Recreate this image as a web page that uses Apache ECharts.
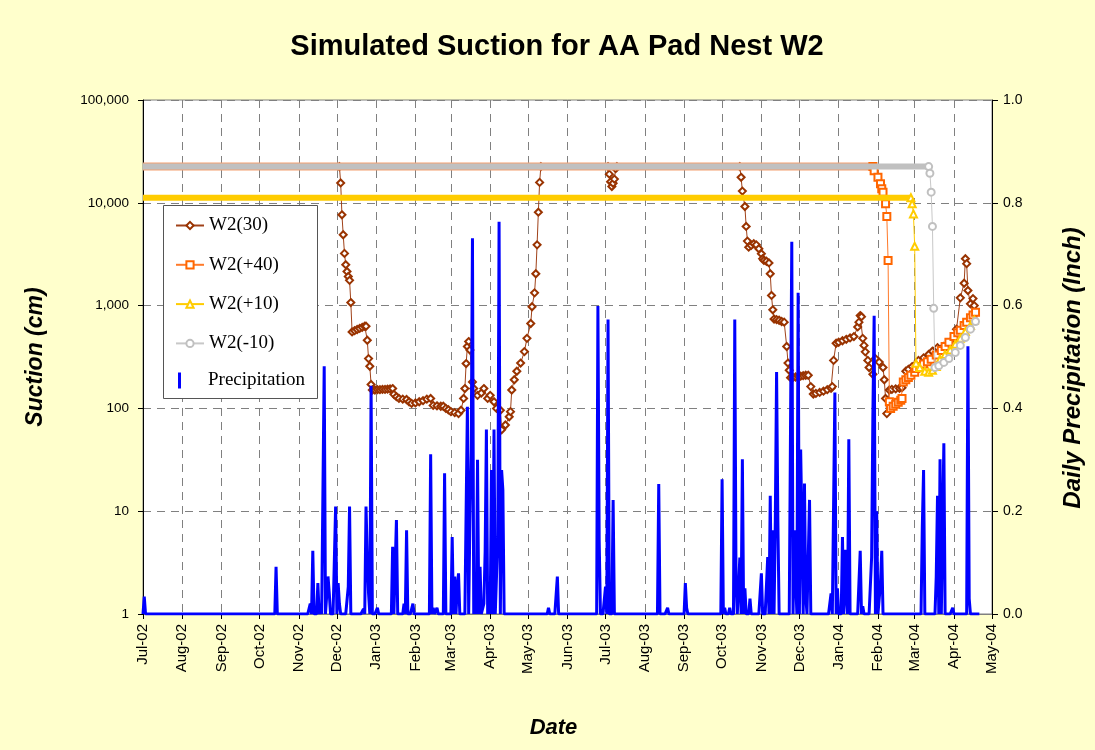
<!DOCTYPE html>
<html><head><meta charset="utf-8">
<script src="https://cdn.jsdelivr.net/npm/echarts@6/dist/echarts.min.js"></script>
<style>html,body{margin:0;padding:0;background:#FFFFCC;}#c{width:1095px;height:750px;}</style>
</head><body><div id="c"></div>
<script>
const leftTickLabels = ['1','10','100','1,000','10,000','100,000'];
const seriesNames = ['W2(30)','W2(+40)','W2(+10)','W2(-10)','Precipitation'];

// W2(30) suction (cm)
const w230Plateau = [['2002-07-01',22500],['2002-12-03',22500]];
const w230 = [
['2002-12-03',22500],['2002-12-04',15600],['2002-12-05',7640],['2002-12-06',4890],
['2002-12-07',3220],['2002-12-08',2500],['2002-12-09',2150],['2002-12-10',1920],['2002-12-11',1760],
['2002-12-12',1070],['2002-12-13',555],['2002-12-15',570],['2002-12-17',585],['2002-12-19',600],
['2002-12-21',615],['2002-12-23',630],['2002-12-24',630],['2002-12-25',460],['2002-12-26',305],
['2002-12-27',257],['2002-12-28',171],['2002-12-29',151],['2002-12-31',151],['2003-01-02',152],
['2003-01-04',152],['2003-01-06',153],['2003-01-08',153],['2003-01-10',154],['2003-01-12',155],
['2003-01-14',156],['2003-01-15',137],['2003-01-17',130],['2003-01-19',125],['2003-01-22',123],
['2003-01-25',122],['2003-01-27',116],['2003-01-29',112],['2003-02-01',113],['2003-02-04',116],
['2003-02-07',119],['2003-02-10',123],['2003-02-13',125],['2003-02-15',107],['2003-02-18',106],
['2003-02-21',105],['2003-02-23',105],['2003-02-25',100],['2003-02-27',97],['2003-03-01',93],
['2003-03-04',91],['2003-03-07',89],['2003-03-09',96],['2003-03-11',125],['2003-03-12',156],
['2003-03-13',273],['2003-03-14',400],['2003-03-15',447],['2003-03-16',370],['2003-03-18',181],
['2003-03-19',156],['2003-03-22',134],['2003-03-25',141],['2003-03-27',156],['2003-03-30',125],
['2003-04-01',134],['2003-04-04',116],['2003-04-06',100],['2003-04-09',96],['2003-04-10',62],
['2003-04-13',69],['2003-04-16',83],['2003-04-17',93],['2003-04-18',151],['2003-04-20',190],
['2003-04-22',230],['2003-04-25',276],['2003-04-28',357],['2003-04-30',480],['2003-05-03',670],
['2003-05-04',975],['2003-05-06',1330],['2003-05-07',2040],['2003-05-08',3900],['2003-05-09',8100],
['2003-05-10',15800],['2003-05-11',22500],['2003-07-03',22500],['2003-07-04',19000],['2003-07-05',16000],
['2003-07-06',14400],['2003-07-07',15500],['2003-07-08',17000],['2003-07-09',21500],['2003-07-10',22500],
['2003-10-15',22500],['2003-10-16',17700],['2003-10-17',13000],['2003-10-19',9200],['2003-10-20',5890],
['2003-10-21',4240],['2003-10-22',3700],['2003-10-24',3850],['2003-10-26',4000],['2003-10-28',3900],
['2003-10-30',3570],['2003-11-01',3200],['2003-11-02',2860],['2003-11-03',2750],['2003-11-05',2700],
['2003-11-07',2600],['2003-11-08',2040],['2003-11-09',1255],['2003-11-10',910],['2003-11-11',740],
['2003-11-13',730],['2003-11-15',720],['2003-11-17',700],['2003-11-19',690],['2003-11-21',400],
['2003-11-22',276],['2003-11-23',235],['2003-11-24',199],['2003-11-26',200],['2003-11-28',202],
['2003-11-30',204],['2003-12-02',206],['2003-12-04',208],['2003-12-06',210],['2003-12-08',210],
['2003-12-10',163],['2003-12-12',138],['2003-12-14',140],['2003-12-17',143],['2003-12-20',147],
['2003-12-23',152],['2003-12-26',157],['2003-12-27',163],['2003-12-28',293],['2003-12-30',430],
['2004-01-01',440],['2004-01-04',455],['2004-01-07',470],['2004-01-10',485],['2004-01-13',500],
['2004-01-16',620],['2004-01-17',690],['2004-01-18',800],['2004-01-19',780],['2004-01-20',480],
['2004-01-21',410],['2004-01-22',355],['2004-01-24',293],['2004-01-25',250],['2004-01-28',215],
['2004-01-30',305],['2004-02-02',282],['2004-02-05',250],['2004-02-06',190],['2004-02-07',125],
['2004-02-08',89],['2004-02-10',151],['2004-02-12',153],['2004-02-15',155],['2004-02-18',157],
['2004-02-20',159],['2004-02-23',230],['2004-02-25',240],['2004-02-28',255],['2004-03-02',270],
['2004-03-04',293],['2004-03-08',310],['2004-03-12',335],['2004-03-15',360],['2004-03-19',390],
['2004-03-24',400],['2004-03-29',440],['2004-04-03',590],['2004-04-06',1190],['2004-04-09',1650],
['2004-04-10',2860],['2004-04-11',2560],['2004-04-12',1400],['2004-04-14',1040],['2004-04-16',1170],
['2004-04-17',1000]
];
// W2(+40)
const w240Plateau = [['2002-07-01',22500],['2004-01-28',22500]];
const w240 = [
['2004-01-28',22500],['2004-01-29',20500],['2004-02-01',17700],['2004-02-03',15300],['2004-02-04',13700],
['2004-02-05',12700],['2004-02-07',9800],['2004-02-08',7360],['2004-02-09',2750],['2004-02-10',116],
['2004-02-11',100],['2004-02-13',105],['2004-02-15',110],['2004-02-17',115],['2004-02-19',120],
['2004-02-20',125],['2004-02-21',181],['2004-02-23',190],['2004-02-25',200],['2004-02-27',210],
['2004-03-01',225],['2004-03-02',245],['2004-03-05',255],['2004-03-08',270],['2004-03-11',285],
['2004-03-14',300],['2004-03-18',330],['2004-03-22',365],['2004-03-25',400],['2004-03-28',440],
['2004-04-01',500],['2004-04-04',545],['2004-04-06',575],['2004-04-09',640],['2004-04-11',690],
['2004-04-14',760],['2004-04-16',810],['2004-04-18',860]
];
// W2(+10)
const w210Plateau = [['2002-07-01',11200],['2004-02-27',11200]];
const w210 = [
['2004-02-27',11200],['2004-02-28',9800],['2004-02-29',7800],['2004-03-01',3770],['2004-03-02',275],
['2004-03-05',250],['2004-03-09',230],['2004-03-12',225],['2004-03-15',235],['2004-03-18',255],
['2004-03-21',300],['2004-03-25',335],['2004-03-29',370],['2004-04-02',420],['2004-04-06',480],
['2004-04-10',560],['2004-04-14',640],['2004-04-17',720]
];
// W2(-10)
const wm10Plateau = [['2002-07-01',22500],['2004-03-12',22500]];
const wm10 = [
['2004-03-12',22500],['2004-03-13',19400],['2004-03-14',12700],['2004-03-15',5890],['2004-03-16',940],
['2004-03-17',250],['2004-03-20',260],['2004-03-24',280],['2004-03-28',305],['2004-04-02',350],
['2004-04-06',410],['2004-04-10',490],['2004-04-14',590],['2004-04-18',700]
];
// Daily precipitation (inch): days with rain; all other days read as 0
const precipStart = '2002-07-01';
const precipEnd = '2004-04-21';
const precipEvents = [
['2002-07-02',0.034],['2002-10-14',0.092],['2002-11-10',0.02],['2002-11-12',0.123],['2002-11-16',0.06],
['2002-11-18',0.02],['2002-11-21',0.482],['2002-11-24',0.073],['2002-11-25',0.04],['2002-11-30',0.209],
['2002-12-02',0.06],['2002-12-03',0.02],['2002-12-10',0.053],['2002-12-11',0.209],['2002-12-22',0.01],
['2002-12-24',0.209],['2002-12-25',0.11],['2002-12-26',0.04],['2002-12-28',0.444],['2003-01-02',0.012],
['2003-01-14',0.131],['2003-01-17',0.183],['2003-01-23',0.02],['2003-01-25',0.163],['2003-01-30',0.02],
['2003-02-13',0.311],['2003-02-15',0.012],['2003-02-18',0.012],['2003-02-24',0.274],['2003-03-02',0.15],
['2003-03-04',0.073],['2003-03-06',0.053],['2003-03-07',0.079],['2003-03-14',0.403],['2003-03-16',0.183],
['2003-03-17',0.319],['2003-03-18',0.731],['2003-03-20',0.08],['2003-03-22',0.3],['2003-03-24',0.092],
['2003-03-27',0.02],['2003-03-28',0.121],['2003-03-29',0.359],['2003-03-31',0.05],['2003-04-02',0.28],
['2003-04-04',0.359],['2003-04-07',0.15],['2003-04-08',0.763],['2003-04-10',0.28],['2003-04-11',0.241],
['2003-05-17',0.012],['2003-05-24',0.073],['2003-06-25',0.599],['2003-06-26',0.144],['2003-07-01',0.053],
['2003-07-03',0.573],['2003-07-07',0.222],['2003-08-12',0.253],['2003-08-19',0.012],['2003-09-02',0.06],
['2003-09-03',0.012],['2003-10-01',0.262],['2003-10-03',0.012],['2003-10-07',0.012],['2003-10-11',0.573],
['2003-10-12',0.06],['2003-10-15',0.11],['2003-10-17',0.301],['2003-10-19',0.05],['2003-10-23',0.03],
['2003-11-01',0.079],['2003-11-06',0.111],['2003-11-08',0.23],['2003-11-10',0.163],['2003-11-12',0.183],
['2003-11-13',0.471],['2003-11-14',0.183],['2003-11-25',0.724],['2003-11-27',0.163],['2003-11-28',0.073],
['2003-11-30',0.625],['2003-12-02',0.32],['2003-12-03',0.17],['2003-12-05',0.254],['2003-12-06',0.035],
['2003-12-09',0.222],['2003-12-26',0.04],['2003-12-29',0.431],['2003-12-31',0.05],['2004-01-04',0.15],
['2004-01-06',0.125],['2004-01-07',0.035],['2004-01-09',0.34],['2004-01-18',0.123],['2004-01-20',0.015],
['2004-01-27',0.11],['2004-01-28',0.39],['2004-01-29',0.58],['2004-01-31',0.2],['2004-02-03',0.06],
['2004-02-04',0.123],['2004-03-07',0.17],['2004-03-08',0.28],['2004-03-18',0.073],['2004-03-19',0.23],
['2004-03-21',0.301],['2004-03-24',0.332],['2004-03-31',0.012],['2004-04-12',0.521],['2004-04-13',0.03]
];

function pad(n){return (n<10?'0':'')+n;}
function key(d){return d.getFullYear()+'-'+pad(d.getMonth()+1)+'-'+pad(d.getDate());}
function toDate(s){const p=s.split('-');return new Date(+p[0],+p[1]-1,+p[2]);}
function dailyPrecip(){
  const m={};
  precipEvents.forEach(function(e){m[e[0]]=Math.max(m[e[0]]||0,e[1]);});
  const out=[];const end=toDate(precipEnd);
  for(let d=toDate(precipStart);d<=end;d.setDate(d.getDate()+1)){const k=key(d);out.push([k,m[k]||0]);}
  return out;
}
function ts(data){return data.map(function(p){return [toDate(p[0]).getTime(),p[1]];});}

const chart = echarts.init(document.getElementById('c'), null, {renderer:'canvas'});
const dash = {type:[8,6], color:'#808080', width:1};
const axisNameBase = {fontFamily:'Liberation Sans', fontWeight:'bold', fontStyle:'italic', fontSize:22, color:'#000'};
const tickFont = {fontFamily:'Liberation Sans', fontSize:13.5, color:'#000'};
const legendText = {fontFamily:'Liberation Serif', fontSize:19, color:'#000'};

function detail(name, data, color, lineColor, symbol, size, z){
  return {name:name, type:'line', data:ts(data), yAxisIndex:0, symbol:symbol, symbolSize:size,
    showSymbol:true, lineStyle:{color:lineColor, width:1}, itemStyle:{color:color, borderColor:color, borderWidth:1.6},
    z:z, animation:false, emphasis:{disabled:true}};
}
function plateau(name, data, color, width, z){
  return {name:name, type:'line', data:ts(data), yAxisIndex:0, symbol:'none', showSymbol:false,
    lineStyle:{color:color, width:width, cap:'butt'}, itemStyle:{color:color}, z:z, animation:false, emphasis:{disabled:true}};
}

const option = {
  backgroundColor:'#FFFFCC',
  animation:false,
  title:{text:'Simulated Suction for AA Pad Nest W2', left:552, top:27, textAlign:'center',
    textStyle:{fontFamily:'Liberation Sans', fontWeight:'bold', fontSize:29, color:'#000'}},
  grid:{show:true, left:143, top:100, width:849, height:514, backgroundColor:'#ffffff', borderColor:'#808080', borderWidth:1},
  graphic:[{type:'rect', left:163, top:205, z:3, shape:{width:154, height:193},
    style:{fill:'#ffffff', stroke:'#555555', lineWidth:1}}],
  legend:[
    {left:175, top:216, orient:'vertical', itemWidth:28, itemHeight:9, itemGap:20.3, padding:0, z:8,
     textStyle:legendText, data:seriesNames.slice(0,4)},
    {left:175, top:371, orient:'vertical', itemWidth:28, itemHeight:16, padding:0, z:8,
     textStyle:legendText, data:[{name:seriesNames[4], icon:'path://M0,0M28,16M3,0h3v16h-3z'}]}
  ],
  xAxis:{
    type:'time', min:toDate('2002-07-01').getTime(), max:toDate('2004-05-01').getTime(),
    splitNumber:22, minInterval:28*86400000, maxInterval:31*86400000,
    name:'Date', nameLocation:'middle', nameGap:103,
    nameTextStyle:Object.assign({padding:[0,28,0,0]}, axisNameBase),
    axisLine:{onZero:false, lineStyle:{color:'#808080'}},
    axisTick:{show:true, length:5, lineStyle:{color:'#000'}},
    axisLabel:{rotate:90, formatter:'{MMM}-{yy}', margin:10, interval:0, hideOverlap:false,
      showMinLabel:true, showMaxLabel:true, fontFamily:'Liberation Sans', fontSize:15, color:'#000'},
    splitLine:{show:true, lineStyle:dash}
  },
  yAxis:[
    {type:'log', logBase:10, min:1, max:100000, position:'left',
     name:'Suction (cm)', nameLocation:'middle', nameRotate:90, nameGap:96,
     nameTextStyle:Object.assign({}, axisNameBase, {fontSize:23}),
     axisLine:{show:true, lineStyle:{color:'#000', width:1}},
     axisTick:{show:true, length:5, lineStyle:{color:'#000'}},
     axisLabel:Object.assign({margin:14, formatter:function(v){return leftTickLabels[Math.round(Math.log10(v))];}}, tickFont),
     splitLine:{show:true, lineStyle:dash}, minorTick:{show:false}},
    {type:'value', min:0, max:1, interval:0.2, position:'right',
     name:'Daily Precipitation (Inch)', nameLocation:'middle', nameRotate:90, nameGap:69,
     nameTextStyle:Object.assign({padding:[0,22,0,0]}, axisNameBase, {fontSize:24}),
     axisLine:{show:true, lineStyle:{color:'#000', width:1}},
     axisTick:{show:true, length:6, lineStyle:{color:'#000'}},
     axisLabel:Object.assign({margin:11, formatter:function(v){return v.toFixed(1);}}, tickFont, {fontSize:14}),
     splitLine:{show:false}}
  ],
  series:[
    detail(seriesNames[0], w230, '#993300', '#A0421A', 'emptyDiamond', 7, 2),
    plateau(seriesNames[0], w230Plateau, '#A0421A', 1, 2),
    detail(seriesNames[1], w240, '#FF6600', '#FF7A2A', 'emptyRect', 7, 3),
    plateau(seriesNames[1], w240Plateau, '#F4A070', 8, 3),
    detail(seriesNames[2], w210, '#FFCC00', '#FFCC00', 'emptyTriangle', 7, 4),
    plateau(seriesNames[2], w210Plateau, '#FFCC00', 6, 4),
    detail(seriesNames[3], wm10, '#C0C0C0', '#C8C8C8', 'emptyCircle', 7, 5),
    plateau(seriesNames[3], wm10Plateau, '#C0C0C0', 6, 5),
    {name:seriesNames[4], type:'line', yAxisIndex:1, data:ts(dailyPrecip()), symbol:'none', showSymbol:false,
     lineStyle:{color:'#0000FF', width:3}, itemStyle:{color:'#0000FF'}, z:6, animation:false, emphasis:{disabled:true}}
  ]
};
chart.setOption(option);
</script></body></html>
